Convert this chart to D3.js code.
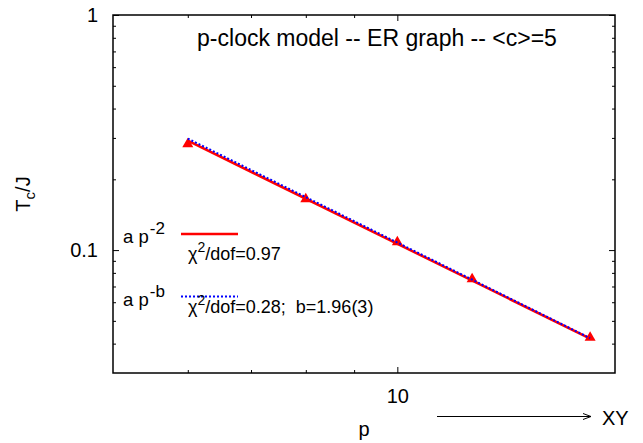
<!DOCTYPE html>
<html>
<head>
<meta charset="utf-8">
<script src="https://cdn.jsdelivr.net/npm/d3@7"></script>
<style>
  body { margin: 0; background: #fff; }
  text { font-family: 'Liberation Sans', Arial, sans-serif; fill: #000; white-space: pre; }
</style>
</head>
<body>
<svg id="chart" width="643" height="443"></svg>
<script>
/****************************************************************
    Data
/****************************************************************/
const pValues = [6, 8, 10, 12, 16]
const tcValues = [0.285, 0.166, 0.109, 0.0758, 0.0428]

// fit curves, straight in log-log so their two ends are enough
const fitP = [6, 16]
const fitSquare = [0.292, 0.042] // a p^-2
const fitFree = [0.298, 0.0422] // a p^-b

const xMajorTicks = [10]
const xMinorTicks = [6, 7, 8, 9]
const yMajorTicks = [0.1, 1]
const yMinorTicks = [0.04, 0.05, 0.06, 0.07, 0.08, 0.09, 0.2, 0.3, 0.4, 0.5, 0.6, 0.7, 0.8, 0.9]
const xTickLabels = ['10']
const yTickLabels = ['0.1', '1']

/****************************************************************
    Layout
/****************************************************************/
const frame = { left: 113, right: 615, top: 15, bottom: 373 }
const svg = d3.select('#chart')

const x = d3.scaleLog().domain([5, 17]).range([frame.left, frame.right])
const y = d3.scaleLog().domain([0.03, 1]).range([frame.bottom, frame.top])

/****************************************************************
    Axes: ticks point inward on all four sides
/****************************************************************/
function styleAxis(g) {
  g.select('.domain').remove()
  g.selectAll('line').attr('stroke', '#000').attr('stroke-width', 1)
  g.selectAll('text').attr('font-family', null).attr('font-size', 20)
  g.attr('font-family', null)
}

svg.append('g')
  .attr('transform', `translate(0,${frame.bottom})`)
  .call(d3.axisBottom(x).tickValues(xMajorTicks).tickSize(-6).tickPadding(16)
    .tickFormat((d, i) => xTickLabels[i]))
  .call(styleAxis)
svg.append('g')
  .attr('transform', `translate(0,${frame.bottom})`)
  .call(d3.axisBottom(x).tickValues(xMinorTicks).tickSize(-3).tickFormat(''))
  .call(styleAxis)
svg.append('g')
  .attr('transform', `translate(0,${frame.top})`)
  .call(d3.axisTop(x).tickValues(xMajorTicks).tickSize(-6).tickFormat(''))
  .call(styleAxis)
svg.append('g')
  .attr('transform', `translate(0,${frame.top})`)
  .call(d3.axisTop(x).tickValues(xMinorTicks).tickSize(-3).tickFormat(''))
  .call(styleAxis)

svg.append('g')
  .attr('transform', `translate(${frame.left},0)`)
  .call(d3.axisLeft(y).tickValues(yMajorTicks).tickSize(-6).tickPadding(15)
    .tickFormat((d, i) => yTickLabels[i]))
  .call(styleAxis)
svg.append('g')
  .attr('transform', `translate(${frame.left},0)`)
  .call(d3.axisLeft(y).tickValues(yMinorTicks).tickSize(-3).tickFormat(''))
  .call(styleAxis)
svg.append('g')
  .attr('transform', `translate(${frame.right},0)`)
  .call(d3.axisRight(y).tickValues(yMajorTicks).tickSize(-6).tickFormat(''))
  .call(styleAxis)
svg.append('g')
  .attr('transform', `translate(${frame.right},0)`)
  .call(d3.axisRight(y).tickValues(yMinorTicks).tickSize(-3).tickFormat(''))
  .call(styleAxis)

svg.append('rect')
  .attr('x', frame.left)
  .attr('y', frame.top)
  .attr('width', frame.right - frame.left)
  .attr('height', frame.bottom - frame.top)
  .attr('fill', 'none')
  .attr('stroke', '#000')
  .attr('stroke-width', 1.5)

/****************************************************************
    Data points and fits
/****************************************************************/
const triangle = 'M0,-5.5L5.5,4L-5.5,4Z'
svg.append('g')
  .selectAll('path')
  .data(pValues)
  .join('path')
  .attr('d', triangle)
  .attr('transform', (d, i) => `translate(${x(d)},${y(tcValues[i])})`)
  .attr('fill', '#ff0000')

const fitLine = (vals) => d3.line()
  .x((d) => x(d))
  .y((d, i) => y(vals[i]))(fitP)

svg.append('path')
  .attr('d', fitLine(fitSquare))
  .attr('fill', 'none')
  .attr('stroke', '#ff0000')
  .attr('stroke-width', 2.5)

svg.append('path')
  .attr('d', fitLine(fitFree))
  .attr('fill', 'none')
  .attr('stroke', '#0000ff')
  .attr('stroke-width', 2)
  .attr('stroke-dasharray', '2,2')

/****************************************************************
    Legend
/****************************************************************/
function powerLabel(yBase, exp) {
  const t = svg.append('text').attr('x', 123).attr('y', yBase).attr('font-size', 18.5)
  t.append('tspan').text('a p')
  t.append('tspan').attr('dx', 1).attr('dy', -9).attr('font-size', 17).text(exp)
}
function chiLabel(yBase, rest) {
  const t = svg.append('text').attr('x', 188).attr('y', yBase).attr('font-size', 18)
  t.append('tspan').text('χ')
  t.append('tspan').attr('dy', -8).attr('font-size', 14).text('2')
  t.append('tspan').attr('dy', 8).text(rest)
}

powerLabel(243, '-2')
svg.append('line')
  .attr('x1', 181).attr('x2', 238)
  .attr('y1', 234).attr('y2', 234)
  .attr('stroke', '#ff0000')
  .attr('stroke-width', 2.5)
chiLabel(260, '/dof=0.97')

powerLabel(306, '-b')
svg.append('line')
  .attr('x1', 181).attr('x2', 238)
  .attr('y1', 296.5).attr('y2', 296.5)
  .attr('stroke', '#0000ff')
  .attr('stroke-width', 2)
  .attr('stroke-dasharray', '2,2')
chiLabel(313, '/dof=0.28;  b=1.96(3)')

/****************************************************************
    Titles and labels
/****************************************************************/
svg.append('text')
  .attr('x', 377)
  .attr('y', 46)
  .attr('text-anchor', 'middle')
  .attr('font-size', 23)
  .text('p-clock model -- ER graph -- <c>=5')

const yLab = svg.append('text')
  .attr('transform', `translate(30,${(frame.top + frame.bottom) / 2}) rotate(-90)`)
  .attr('text-anchor', 'middle')
  .attr('font-size', 20)
yLab.append('tspan').text('T')
yLab.append('tspan').attr('dy', 5).attr('font-size', 15).text('c')
yLab.append('tspan').attr('dy', -5).text('/J')

svg.append('text')
  .attr('x', (frame.left + frame.right) / 2)
  .attr('y', 436)
  .attr('text-anchor', 'middle')
  .attr('font-size', 20)
  .text('p')

// arrow toward XY
svg.append('path')
  .attr('d', 'M437,416.5H591M583,413.5L591,416.5L583,419.5')
  .attr('fill', 'none')
  .attr('stroke', '#000')
  .attr('stroke-width', 1)
svg.append('text')
  .attr('x', 602)
  .attr('y', 425)
  .attr('font-size', 20)
  .text('XY')
</script>
</body>
</html>
